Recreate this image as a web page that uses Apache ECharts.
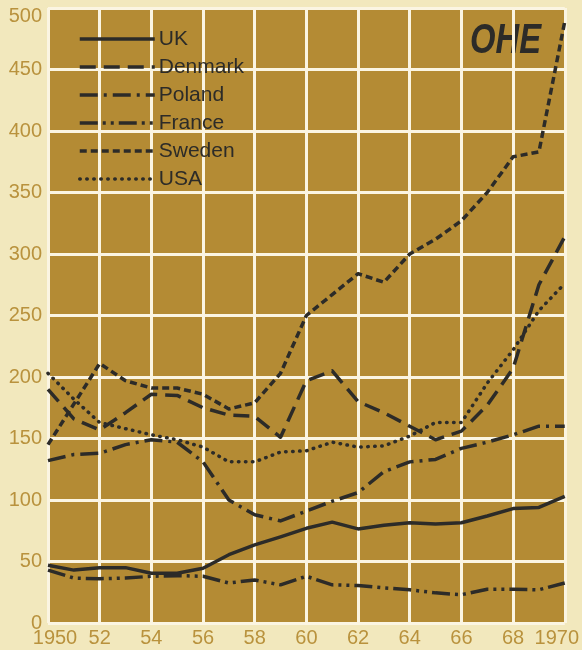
<!DOCTYPE html>
<html>
<head>
<meta charset="utf-8">
<script src="https://cdn.jsdelivr.net/npm/echarts@6/dist/echarts.min.js"></script>
<style>
html,body{margin:0;padding:0;background:#f2e8bd;}
#c{width:582px;height:650px;}
</style>
</head>
<body>
<div id="c"></div>
<script>
var years = [1950,1951,1952,1953,1954,1955,1956,1957,1958,1959,1960,1961,1962,1963,1964,1965,1966,1967,1968,1969,1970];
var uk      = [47, 43, 45, 45, 40.5, 40.5, 44.5, 55.5, 63.5, 70, 77, 82, 76.5, 79.5, 81.5, 80.5, 81.5, 87, 93, 94, 103];
var denmark = [190, 166, 157, 171, 186, 185, 175, 169, 168, 151, 197, 205, 180, 171, 160, 149, 156, 177, 207, 275, 314];
var poland  = [132, 137, 138, 145, 149, 147, 131, 100, 88, 83, 91, 99, 106, 123, 131, 133, 142, 147, 153, 160, 160];
var france  = [43, 36.5, 36, 36.5, 38, 38.5, 38, 32.5, 35, 31, 38, 31, 30.5, 28.5, 27, 24.5, 23, 27.5, 27.5, 27, 32.5];
var sweden  = [145, 178, 211, 197, 191, 191, 186, 174, 179, 203, 250, 267, 284, 277, 300, 312, 327, 350, 379, 383, 489];
var usa     = [203, 182, 163, 158, 153, 149, 143, 131, 131, 139, 140, 147, 143, 144, 152, 163, 163, 195, 222, 254, 276];
var xTickLabels = ['1950','52','54','56','58','60','62','64','66','68','1970'];
var yTicks = [0,50,100,150,200,250,300,350,400,450,500];

var INK = '#2c2b28';
var LABEL = '#b9923d';
var FONT = '"Liberation Sans",Arial,sans-serif';

function pairs(arr){ return arr.map(function(v,i){ return [years[i], v]; }); }

function mk(name, arr, type, cap){
  return {
    name: name, type: 'line', data: pairs(arr), symbol: 'none', smooth: false,
    lineStyle: { color: INK, width: 3.5, type: type, cap: cap || 'butt', join: 'round' },
    itemStyle: { color: INK },
    emphasis: { disabled: true }
  };
}

var chart = echarts.init(document.getElementById('c'), null, {renderer:'canvas'});
chart.setOption({
  backgroundColor: '#f2e8bd',
  animation: false,
  grid: { left: 48, right: 17, top: 8, bottom: 27, show: true, backgroundColor: '#b48b34', borderWidth: 0 },
  xAxis: {
    type: 'value', min: 1950, max: 1970, interval: 2,
    axisLine: { show: false }, axisTick: { show: false },
    splitLine: { show: true, lineStyle: { color: '#fbf5e2', width: 3 } },
    axisLabel: {
      color: LABEL, fontFamily: FONT, fontSize: 20, margin: 5,
      formatter: function(v){
        var i = Math.round((v - 1950) / 2);
        var t = xTickLabels[i];
        if (i === 0) return '{l|' + t + '}';
        if (i === xTickLabels.length - 1) return '{r|' + t + '}';
        return t;
      },
      rich: {
        l: { color: LABEL, fontFamily: FONT, fontSize: 20, padding: [0,0,0,14] },
        r: { color: LABEL, fontFamily: FONT, fontSize: 20, padding: [0,16,0,0] }
      }
    }
  },
  yAxis: {
    type: 'value', min: 0, max: 500, interval: 50,
    axisLine: { show: false }, axisTick: { show: false },
    splitLine: { show: true, lineStyle: { color: '#fbf5e2', width: 3 } },
    axisLabel: {
      color: LABEL, fontFamily: FONT, fontSize: 20, margin: 6,
      formatter: function(v){
        if (v === yTicks[yTicks.length-1]) return '{t|' + v + '}';
        return String(v);
      },
      rich: { t: { color: LABEL, fontFamily: FONT, fontSize: 20, padding: [16,0,0,0] } }
    }
  },
  legend: {
    orient: 'vertical', left: 73, top: 23,
    itemWidth: 75, itemHeight: 22, itemGap: 6,
    itemStyle: { color: 'rgba(0,0,0,0)', borderColor: 'rgba(0,0,0,0)', borderWidth: 0 },
    lineStyle: { width: 3.5 },
    textStyle: { color: INK, fontFamily: FONT, fontSize: 21, lineHeight: 22, padding: [0,0,0,-1] },
    data: ['UK','Denmark','Poland','France','Sweden','USA']
  },
  graphic: [{
    type: 'text', left: 470, top: 20,
    scaleX: 0.78,
    style: { text: 'OHE', fill: INK, font: 'italic bold 42px "Liberation Sans",Arial,sans-serif' }
  }],
  series: [
    mk('UK', uk, 'solid'),
    mk('Denmark', denmark, [16, 8]),
    mk('Poland', poland, [18, 6, 3, 6]),
    mk('France', france, [18, 5, 3, 5, 3, 5]),
    mk('Sweden', sweden, [7, 4]),
    mk('USA', usa, [0.5, 6.5], 'round')
  ]
});
</script>
</body>
</html>
